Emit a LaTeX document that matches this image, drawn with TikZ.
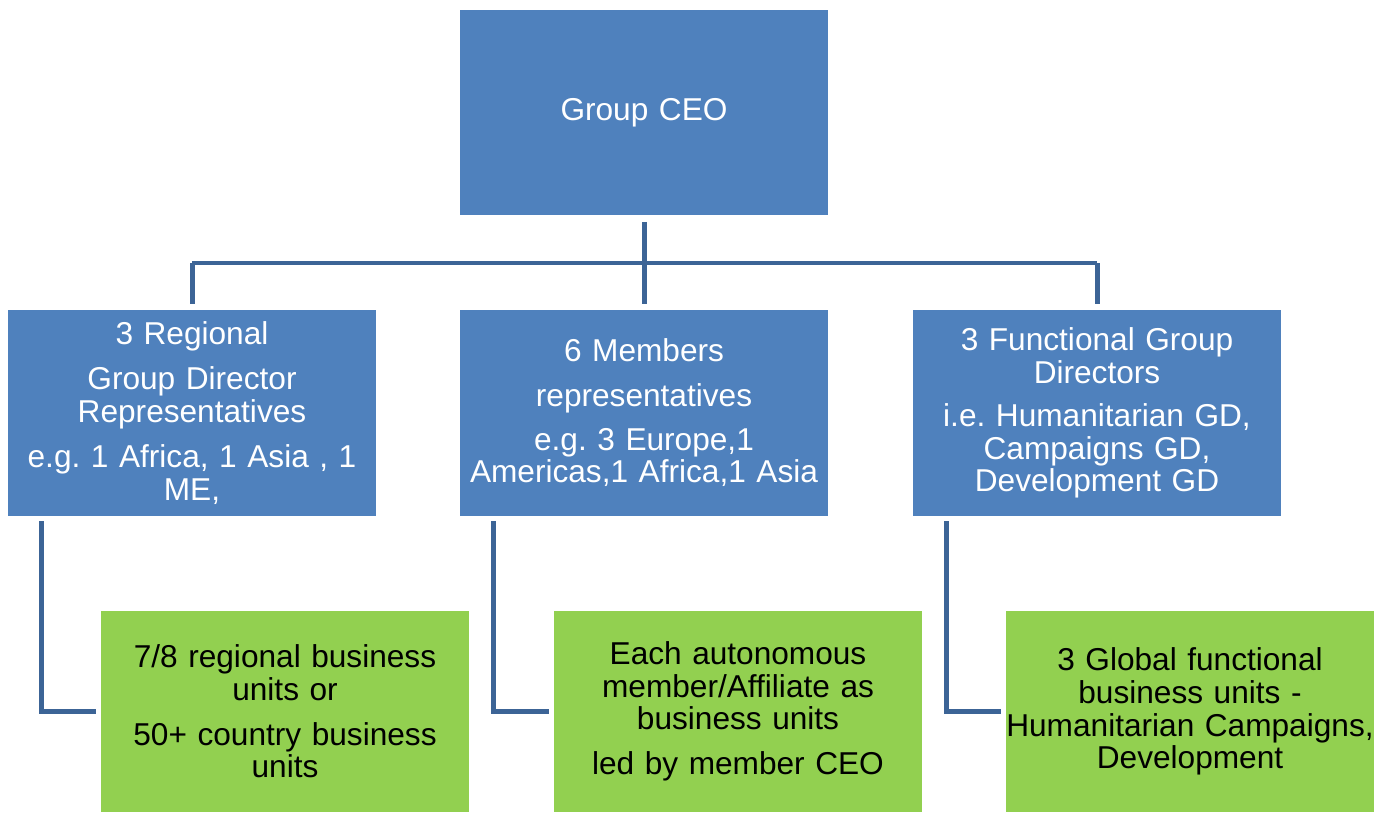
\documentclass[tikz,border=0pt]{standalone}
\usepackage{fontspec}
\setmainfont{Liberation Sans}
\usetikzlibrary{positioning}
\definecolor{boxblue}{HTML}{4F81BD}
\definecolor{linkblue}{HTML}{3C6496}
\definecolor{boxgreen}{HTML}{92D050}
\tikzset{
    unit/.style={minimum width=7.36cm, text width=7.36cm, align=center, inner sep=0pt, font=\fontsize{18pt}{18.6pt}\selectfont\frenchspacing},
    bluebox/.style={unit, fill=boxblue, text=white, minimum height=4.12cm},
    greenbox/.style={unit, fill=boxgreen, text=black, minimum height=4.02cm},
    link/.style={draw=linkblue, line width=0.1cm}
}

\begin{document}
\begin{tikzpicture}[x=0.02cm, y=-0.02cm]
    \useasboundingbox (0, 0) rectangle (1389, 814);
    \node[bluebox](ceo) at (644, 112.5){Group CEO};
    \node[bluebox](regional) at (192, 413){3 Regional\\[7pt]Group Director\\Representatives\\[7pt]e.g. 1 Africa, 1 Asia , 1\\ME,};
    \node[bluebox](members) at (644, 413){6 Members\\[7pt]representatives\\[6pt]e.g. 3 Europe,1\\Americas,1 Africa,1 Asia};
    \node[bluebox](functional) at (1097, 413){3 Functional Group\\Directors\\[6pt]i.e. Humanitarian GD,\\Campaigns GD,\\Development GD};
    \node[greenbox](unitsA) at (285, 711.5){7/8 regional business\\units or\\[7pt]50+ country business\\units};
    \node[greenbox](unitsB) at (738, 711.5){Each autonomous\\member/Affiliate as\\business units\\[7pt]led by member CEO};
    \node[greenbox](unitsC) at (1190, 711.5){3 Global functional\\business units -\\Humanitarian Campaigns,\\Development};
    % tree lines
    \coordinate (bus) at (644, 263);
    \draw[link, shorten <=0.12cm](ceo.south)--(ceo.south |- bus);
    \draw[link](regional.north |- bus)--(functional.north |- bus);
    \foreach \n in {regional, members, functional}
        \draw[link, shorten >=0.12cm](\n.north |- bus)--(\n.north);
    \draw[link, shorten <=0.1cm, shorten >=0.1cm]([xshift=0.68cm]regional.south west)|-(unitsA.west);
    \draw[link, shorten <=0.1cm, shorten >=0.1cm]([xshift=0.68cm]members.south west)|-(unitsB.west);
    \draw[link, shorten <=0.1cm, shorten >=0.1cm]([xshift=0.68cm]functional.south west)|-(unitsC.west);
\end{tikzpicture}
\end{document}
